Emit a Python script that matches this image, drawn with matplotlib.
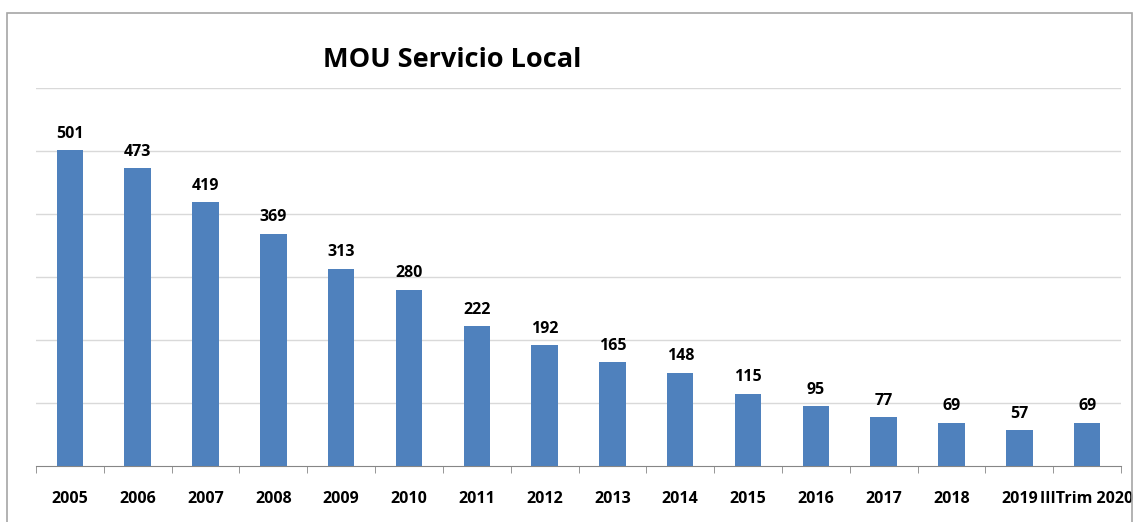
import numpy as np
import matplotlib
matplotlib.use("Agg")
import matplotlib.pyplot as plt
from matplotlib.patches import Rectangle

# datos del grafico
years = ['2005', '2006', '2007', '2008', '2009', '2010', '2011', '2012',
         '2013', '2014', '2015', '2016', '2017', '2018', '2019', 'IIITrim 2020']
mou = [501, 473, 419, 369, 313, 280, 222, 192, 165, 148, 115, 95, 77, 69, 57, 69]

plt.rcParams['font.family'] = ['Open Sans', 'DejaVu Sans']

fig = plt.figure(figsize=(11.37, 5.22), dpi=100)
ax = fig.add_axes([36 / 1137, 1 - 466 / 522, (1121 - 36) / 1137, (466 - 88) / 522])

x = np.arange(len(years))
bars = ax.bar(x, mou, width=0.39, color='#4F81BD', zorder=3)

for xi, v in zip(x, mou):
    ax.annotate(str(v), (xi, v), xytext=(0, 6), textcoords='offset points',
                ha='center', va='bottom', fontsize=11.5, fontweight='bold')

ax.set_xlim(-0.5, len(years) - 0.5)
ax.set_ylim(0, 600)
ax.set_yticks(np.arange(100, 601, 100))
ax.yaxis.grid(True, color='#D9D9D9', linewidth=1)
ax.tick_params(axis='y', left=False, labelleft=False)

ax.set_xticks(x)
ax.set_xticklabels(years, fontsize=11.5, fontweight='bold')
ax.tick_params(axis='x', length=0, pad=18)
ax.set_xticks(np.arange(-0.5, len(years)), minor=True)
ax.tick_params(axis='x', which='minor', length=5, color='#868686', direction='out')

for s in ['top', 'right', 'left']:
    ax.spines[s].set_visible(False)
ax.spines['bottom'].set_color('#868686')

fig.text(452 / 1137, 1 - 60 / 522, 'MOU Servicio Local', ha='center', va='center',
         fontsize=19.5, fontweight='bold')

fig.patches.append(Rectangle((7 / 1137, -0.05), (1132 - 7) / 1137, 1 - 13 / 522 + 0.05,
                             transform=fig.transFigure, fill=False,
                             edgecolor='#A6A6A6', linewidth=1.2))

plt.savefig('out.png', dpi=100)
